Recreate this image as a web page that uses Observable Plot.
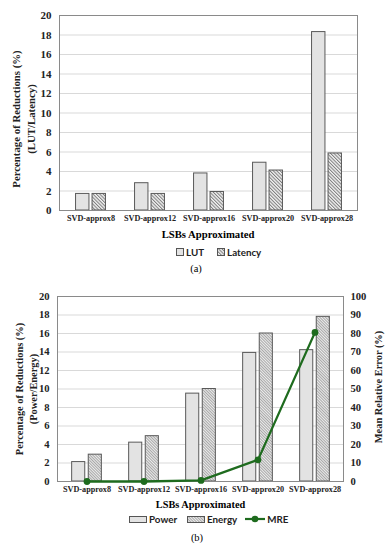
<!DOCTYPE html>
<html><head><meta charset="utf-8">
<script src="https://cdn.jsdelivr.net/npm/d3@7"></script>
<script src="https://cdn.jsdelivr.net/npm/@observablehq/plot@0.6"></script>
<style>
body{margin:0;background:#fff;width:391px;height:550px;position:relative;overflow:hidden;}
.abs{position:absolute;}
.ttl{font-family:"Liberation Serif",serif;font-weight:bold;white-space:nowrap;transform:translate(-50%,-50%);}
.cap{font-family:"Liberation Serif",serif;font-size:10.5px;white-space:nowrap;transform:translate(-50%,-50%);}
.leg{display:flex;align-items:center;font-family:Lato,"Liberation Sans",sans-serif;font-weight:bold;font-size:9.8px;color:#222;transform:translateY(-50%);white-space:nowrap;}
.leg svg{display:block;}
</style></head><body>
<svg width="0" height="0" style="position:absolute">
<defs>
<pattern id="hatchA" patternUnits="userSpaceOnUse" width="2.4" height="2.4" patternTransform="rotate(-45)">
<rect width="2.4" height="2.4" fill="#f2f2f2"/><line x1="0.5" y1="0" x2="0.5" y2="2.4" stroke="#7d7d7d" stroke-width="1"/>
</pattern>
<pattern id="dotsE" patternUnits="userSpaceOnUse" width="2" height="2" patternTransform="rotate(-45)">
<rect width="2" height="2" fill="#ececec"/><line x1="0.5" y1="0" x2="0.5" y2="2" stroke="#a8a8a8" stroke-width="1"/>
</pattern>
</defs></svg>
<div id="chartA" class="abs" style="left:0;top:0"></div>
<div class="abs ttl" style="left:208px;top:234px;font-size:10.7px">LSBs Approximated</div>
<div class="abs leg" style="left:176px;top:252px">
<svg width="8" height="8"><rect x="0.5" y="0.5" width="7" height="7" fill="#e3e3e3" stroke="#555"/></svg><span style="margin-left:2px">LUT</span>
<svg width="8" height="8" style="margin-left:13px"><rect x="0.5" y="0.5" width="7" height="7" fill="url(#hatchA)" stroke="#555"/></svg><span style="margin-left:2px">Latency</span>
</div>
<div class="abs cap" style="left:196px;top:268px">(a)</div>
<div id="chartB" class="abs" style="left:0;top:281px"></div>
<div class="abs ttl" style="left:200.5px;top:504px;font-size:10.3px">LSBs Approximated</div>
<div class="abs leg" style="left:129px;top:519px">
<svg width="18" height="7"><rect x="0.5" y="0.5" width="17" height="6" fill="#e3e3e3" stroke="#555"/></svg><span style="margin-left:2px">Power</span>
<svg width="18" height="7" style="margin-left:10px"><rect x="0.5" y="0.5" width="17" height="6" fill="url(#dotsE)" stroke="#555"/></svg><span style="margin-left:2px">Energy</span>
<svg width="20" height="8" style="margin-left:8px"><line x1="0" y1="4" x2="20" y2="4" stroke="#1e6b1e" stroke-width="2.2"/><circle cx="10" cy="4" r="3.3" fill="#1e6b1e"/></svg><span style="margin-left:2px">MRE</span>
</div>
<div class="abs cap" style="left:197px;top:537px">(b)</div>
<script>
// ---- data ----
const categories = ["SVD-approx8", "SVD-approx12", "SVD-approx16", "SVD-approx20", "SVD-approx28"];
const lutValues = [1.7, 2.8, 3.8, 4.9, 18.3];
const latencyValues = [1.7, 1.7, 1.9, 4.1, 5.85];
const powerValues = [2.1, 4.2, 9.5, 13.9, 14.2];
const energyValues = [2.9, 4.9, 10.0, 16.0, 17.8];
const mreValues = [0, 0, 0.6, 11.7, 80.6];
const yTicks = [0, 2, 4, 6, 8, 10, 12, 14, 16, 18, 20];
const mreTicks = [0, 10, 20, 30, 40, 50, 60, 70, 80, 90, 100];
const labelA = "Percentage of Reductions (%)\n(LUT/Latency)";
const labelB = "Percentage of Reductions (%)\n(Power/Energy)";
const labelMRE = "Mean Relative Error (%)";

const tableA = categories.map((c, i) => ({cat: c, lut: lutValues[i], latency: latencyValues[i]}));
const tableB = categories.map((c, i) => ({cat: c, power: powerValues[i], energy: energyValues[i], mre: mreValues[i]}));

const font = "'Liberation Serif', 'Times New Roman', serif";
const barStroke = "#595959";
const green = "#1e6b1e";

// ---- chart (a) ----
{
  const W = 391, mL = 59, mR = 34;
  const bw = (W - mL - mR) / categories.length;
  const barW = 14, gap = 2.5;
  const chart = Plot.plot({
    width: W, height: 226,
    marginTop: 15, marginBottom: 16, marginLeft: mL, marginRight: mR,
    style: {fontFamily: font, fontWeight: "bold", color: "#222", background: "#fff", overflow: "visible"},
    x: {type: "band", domain: categories, padding: 0},
    y: {domain: [0, 20]},
    marks: [
      Plot.gridY(yTicks, {stroke: "#d9d9d9", strokeOpacity: 1}),
      Plot.barY(tableA, {x: "cat", y: "lut", fill: "#e3e3e3", stroke: barStroke, strokeWidth: 1,
        insetLeft: bw / 2 - gap / 2 - barW, insetRight: bw / 2 + gap / 2}),
      Plot.barY(tableA, {x: "cat", y: "latency", fill: "url(#hatchA)", stroke: barStroke, strokeWidth: 1,
        insetLeft: bw / 2 + gap / 2, insetRight: bw / 2 - gap / 2 - barW}),
      Plot.frame({stroke: "#8a8a8a"}),
      Plot.axisY(yTicks, {tickSize: 0, tickPadding: 8, fontSize: 11, label: null}),
      Plot.axisX({tickSize: 0, tickPadding: 5, fontSize: 8.2, label: null}),
      Plot.text([labelA], {frameAnchor: "left", textAnchor: "middle", lineAnchor: "middle", rotate: -90,
        dx: -36.5, dy: 6, lineHeight: 1.38, fontSize: 10.8})
    ]
  });
  document.getElementById("chartA").append(chart);
}

// ---- chart (b) ----
{
  const W = 391, mL = 57, mR = 48;
  const bw = (W - mL - mR) / categories.length;
  const barW = 13.3, gap = 3.3;
  const ratio = mreTicks[mreTicks.length - 1] / yTicks[yTicks.length - 1];
  const chart = Plot.plot({
    width: W, height: 216,
    marginTop: 15, marginBottom: 16, marginLeft: mL, marginRight: mR,
    style: {fontFamily: font, fontWeight: "bold", color: "#222", background: "#fff", overflow: "visible"},
    x: {type: "band", domain: categories, padding: 0},
    y: {domain: [0, 20]},
    marks: [
      Plot.gridY(yTicks, {stroke: "#d9d9d9", strokeOpacity: 1}),
      Plot.barY(tableB, {x: "cat", y: "power", fill: "#e3e3e3", stroke: barStroke, strokeWidth: 1,
        insetLeft: bw / 2 - gap / 2 - barW, insetRight: bw / 2 + gap / 2}),
      Plot.barY(tableB, {x: "cat", y: "energy", fill: "url(#dotsE)", stroke: barStroke, strokeWidth: 1,
        insetLeft: bw / 2 + gap / 2, insetRight: bw / 2 - gap / 2 - barW}),
      Plot.frame({stroke: "#8a8a8a"}),
      Plot.line(tableB, {x: "cat", y: d => d.mre / ratio, stroke: green, strokeWidth: 2.3}),
      Plot.dot(tableB, {x: "cat", y: d => d.mre / ratio, r: 3.4, fill: green, stroke: "none"}),
      Plot.axisY(yTicks, {tickSize: 0, tickPadding: 8, fontSize: 10.6, label: null}),
      Plot.axisY(yTicks, {anchor: "right", tickSize: 0, tickPadding: 7, fontSize: 10.6, label: null,
        tickFormat: d => mreTicks[yTicks.indexOf(d)]}),
      Plot.axisX({tickSize: 0, tickPadding: 5, fontSize: 8.2, label: null}),
      Plot.text([labelB], {frameAnchor: "left", textAnchor: "middle", lineAnchor: "middle", rotate: -90,
        dx: -32, dy: 0, lineHeight: 1.33, fontSize: 10.4}),
      Plot.text([labelMRE], {frameAnchor: "right", textAnchor: "middle", lineAnchor: "middle", rotate: -90,
        dx: 34.7, dy: -2, fontSize: 10.4})
    ]
  });
  document.getElementById("chartB").append(chart);
}
</script>
</body></html>
